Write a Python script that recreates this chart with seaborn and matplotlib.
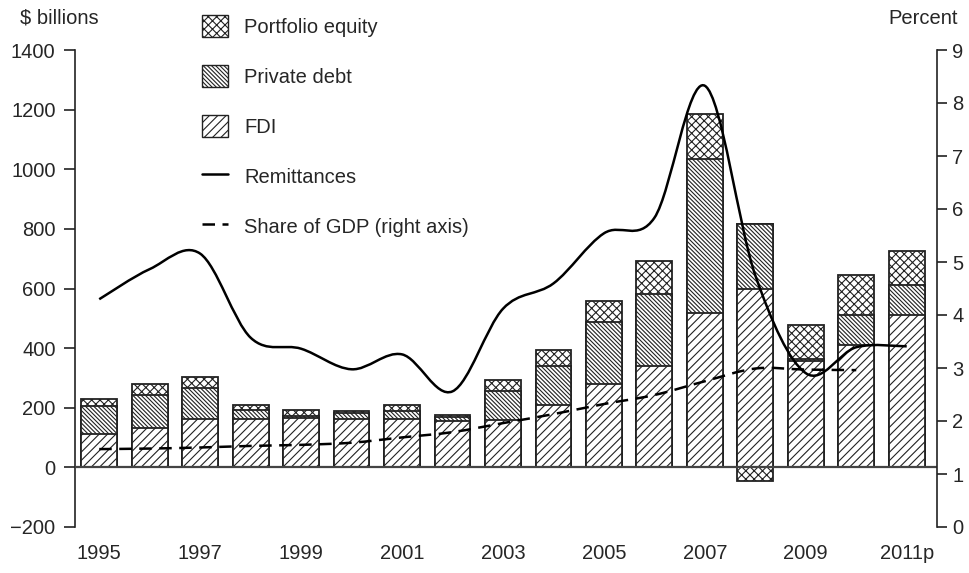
import numpy as np
import pandas as pd
import matplotlib
matplotlib.use('Agg')
import matplotlib.pyplot as plt
from matplotlib.patches import Patch, PathPatch
from matplotlib.lines import Line2D
from matplotlib.path import Path
import seaborn as sns

# values ($ billions / percent)
years = ['1995', '1996', '1997', '1998', '1999', '2000', '2001', '2002', '2003',
         '2004', '2005', '2006', '2007', '2008', '2009', '2010', '2011p']
fdi = [113, 131, 161, 161, 164, 162, 162, 155, 158, 208, 281, 341, 519, 598, 356, 409, 510]
private_debt = [94, 113, 104, 30, 9, 20, 27, 14, 99, 131, 205, 239, 517, 218, 8, 103, 101]
portfolio_equity = [23, 37, 39, 18, 18, 6, 20, 6, 37, 54, 73, 112, 151, -47, 112, 133, 115]
remittances = [564, 665, 717, 435, 398, 329, 379, 255, 532, 617, 785, 837, 1280, 644, 316, 403, 406]
# share of GDP, 1995-2010 only
share_gdp = [1.47, 1.48, 1.50, 1.53, 1.55, 1.59, 1.69, 1.79, 1.96, 2.13, 2.32, 2.49, 2.75, 2.99, 2.97, 2.96]
tick_years = ['1995', '1997', '1999', '2001', '2003', '2005', '2007', '2009', '2011p']

sns.set_style('white')
plt.rcParams['font.family'] = ['Liberation Sans', 'DejaVu Sans']
plt.rcParams['hatch.linewidth'] = 0.8
FS = 14.5

HATCH_EQ = 'xxxx'
HATCH_DEBT = '\\' * 8
HATCH_FDI = '////'

df = pd.DataFrame({'year': years, 'fdi': fdi, 'debt': private_debt, 'equity': portfolio_equity})
df['fdi_debt'] = df['fdi'] + df['debt']
df['eq_pos'] = df['fdi_debt'] + df['equity'].clip(lower=0)
df['eq_neg'] = df['equity'].clip(upper=0)


def smooth_path(xs, ys):
    # excel-like smoothed line (catmull-rom as bezier segments)
    pts = np.column_stack([xs, ys]).astype(float)
    n = len(pts)
    verts = [pts[0]]
    codes = [Path.MOVETO]
    for i in range(n - 1):
        p0 = pts[max(i - 1, 0)]
        p1 = pts[i]
        p2 = pts[i + 1]
        p3 = pts[min(i + 2, n - 1)]
        verts += [p1 + (p2 - p0) / 6, p2 - (p3 - p1) / 6, p2]
        codes += [Path.CURVE4] * 3
    return Path(verts, codes)


fig = plt.figure(figsize=(9.7, 5.73), dpi=100)
ax = fig.add_axes([75 / 970, 1 - 527 / 573, (937 - 75) / 970, (527 - 50) / 573])

# stacked bars drawn as layers: total, fdi+debt, fdi, then the negative equity part
bar_kw = dict(color='white', edgecolor='#222222', linewidth=1.3, width=0.71,
              order=years, errorbar=None, saturation=1)
for col, hatch in [('eq_pos', HATCH_EQ), ('fdi_debt', HATCH_DEBT), ('fdi', HATCH_FDI), ('eq_neg', HATCH_EQ)]:
    sns.barplot(data=df, x='year', y=col, hatch=hatch, ax=ax, **bar_kw)

ax.axhline(0, color='#444444', lw=1.6, zorder=3)

xpos = np.arange(len(years))
ax.add_patch(PathPatch(smooth_path(xpos, remittances), fill=False,
                       edgecolor='black', lw=1.8, zorder=5))

ax2 = ax.twinx()
ax2.add_patch(PathPatch(smooth_path(xpos[:len(share_gdp)], share_gdp), fill=False,
                        edgecolor='black', lw=1.8, linestyle=(0, (5, 3)), zorder=5))

ax.set_xlim(-0.48, 16.6)
ax.set_ylim(-200, 1400)
ax2.set_ylim(0, 9)
ax.set_yticks(range(-200, 1401, 200))
ax2.set_yticks(range(0, 10))
ax.set_xticks(range(0, 17, 2))
ax.set_xticklabels(tick_years)
ax.set_xlabel('')
ax.set_ylabel('')

for a in (ax, ax2):
    a.spines['top'].set_visible(False)
    a.spines['bottom'].set_visible(False)
ax.spines['right'].set_visible(False)
ax2.spines['left'].set_visible(False)
ax.spines['left'].set_linewidth(1.2)
ax2.spines['right'].set_linewidth(1.2)
ax.spines['left'].set_color('#222222')
ax2.spines['right'].set_color('#222222')

ax.tick_params(axis='y', direction='out', length=8, width=1.2, pad=6, labelsize=FS, left=True, color='#222222')
ax.tick_params(axis='x', length=0, pad=12, labelsize=FS)
ax2.tick_params(axis='y', direction='out', length=7, width=1.2, pad=4, labelsize=FS, right=True, color='#222222')

fig.text(20 / 970, 1 - 18 / 573, '\\$ billions', ha='left', va='center', fontsize=FS)
fig.text(958 / 970, 1 - 18 / 573, 'Percent', ha='right', va='center', fontsize=FS)

handles = [
    Patch(facecolor='white', edgecolor='#222222', hatch=HATCH_EQ),
    Patch(facecolor='white', edgecolor='#222222', hatch=HATCH_DEBT),
    Patch(facecolor='white', edgecolor='#222222', hatch=HATCH_FDI),
    Line2D([], [], color='black', lw=1.8),
    Line2D([], [], color='black', lw=1.8, linestyle=(0, (5, 3))),
]
labels = ['Portfolio equity', 'Private debt', 'FDI', 'Remittances', 'Share of GDP (right axis)']
fig.legend(handles, labels, loc='upper left', bbox_to_anchor=(202 / 970, 1 - 15 / 573),
           frameon=False, fontsize=FS, handlelength=1.3, handleheight=1.3,
           labelspacing=1.4, handletextpad=0.8, borderpad=0, borderaxespad=0)

fig.savefig('out.png', dpi=100)
